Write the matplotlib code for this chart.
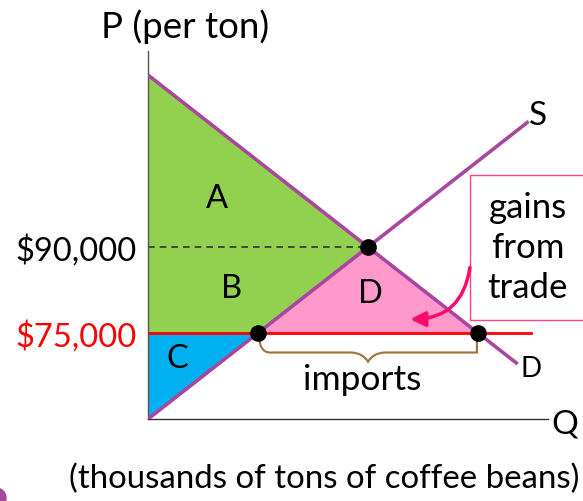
import numpy as np
import matplotlib
matplotlib.use("Agg")
import matplotlib.pyplot as plt
from matplotlib.patches import Polygon, Rectangle, Circle
from matplotlib.path import Path
from matplotlib.patches import PathPatch
from matplotlib.transforms import IdentityTransform

plt.rcParams['font.family'] = ['Lato', 'DejaVu Sans']

# market data (P in $1000 per ton, Q in thousands of tons)
supply_q = [0, 34.6]
supply_p = [60, 60 + 1.5 * 34.6]
demand_q = [0, 33.6]
demand_p = [120, 120 - 1.5 * 33.6]
world_price = 75
eq_q, eq_p = 20, 90
qs_world, qd_world = 10, 30
price_ticks = [75, 90]
price_labels = ['$75,000', '$90,000']

PURPLE = '#A8479F'
GREEN = '#92D050'
BLUE = '#00B0F0'
PINK = '#FF99CC'

fig = plt.figure(figsize=(5.83, 5.02), dpi=100)
ax = fig.add_axes([148 / 583, 82 / 502, 400 / 583, 368 / 502])
ax.set_xlim(0, 400 / 11)
ax.set_ylim(60, 60 + 368 / 5.733)

for s in ['top', 'right']:
    ax.spines[s].set_visible(False)
ax.spines['left'].set_color('#555555')
ax.spines['left'].set_linewidth(1.0)
ax.spines['bottom'].set_color('#333333')
ax.spines['bottom'].set_linewidth(1.0)
ax.set_xticks([])
ax.set_yticks(price_ticks)
ax.set_yticklabels(price_labels, fontsize=23.5)
ax.tick_params(axis='y', length=0, pad=8)
ax.get_yticklabels()[0].set_color('red')

# surplus areas
ax.add_patch(Polygon([(0, demand_p[0]), (eq_q, eq_p), (qs_world, world_price), (0, world_price)],
                     closed=True, facecolor=GREEN, edgecolor='none', zorder=1))
ax.add_patch(Polygon([(0, world_price), (qs_world, world_price), (0, supply_p[0])],
                     closed=True, facecolor=BLUE, edgecolor='none', zorder=1))
ax.add_patch(Polygon([(qs_world, world_price), (eq_q, eq_p), (qd_world, world_price)],
                     closed=True, facecolor=PINK, edgecolor='none', zorder=1))

ax.plot([0, eq_q], [eq_p, eq_p], color='#333333', lw=1.2, ls=(0, (4, 3)), zorder=2)
ax.plot([0, 34.8], [world_price, world_price], color='red', lw=2, zorder=3)
ax.plot(supply_q, supply_p, color=PURPLE, lw=2.6, zorder=4, solid_capstyle='butt')
ax.plot(demand_q, demand_p, color=PURPLE, lw=2.6, zorder=4, solid_capstyle='butt')
ax.plot([qs_world, eq_q, qd_world], [world_price, eq_p, world_price], 'o',
        color='black', ms=11, zorder=5)

# brace under imports
x0, x1 = qs_world + 0.1, qd_world - 0.1
xm = (x0 + x1) / 2
y0 = world_price - 0.3
yb = world_price - 3.4
yt = world_price - 5.0
verts = [(x0, y0), (x0, yb), (x0 + 1.0, yb), (x0 + 1.6, yb),
         (xm - 1.6, yb), (xm - 0.5, yb), (xm, yt),
         (xm + 0.5, yb), (xm + 1.6, yb),
         (x1 - 1.6, yb), (x1 - 1.0, yb), (x1, yb), (x1, y0)]
codes = [Path.MOVETO, Path.CURVE3, Path.CURVE3, Path.LINETO,
         Path.LINETO, Path.CURVE3, Path.CURVE3,
         Path.CURVE3, Path.CURVE3,
         Path.LINETO, Path.CURVE3, Path.CURVE3, Path.LINETO]
ax.add_patch(PathPatch(Path(verts, codes), facecolor='none', edgecolor='#A0703A', lw=1.5, zorder=3))

# box and arrow
ax.add_patch(Rectangle((29.3, 77.3), 12, 25.3, facecolor='white', edgecolor='#FF4088',
                       lw=1.0, clip_on=False, zorder=6))
ax.text(34.5, 90.0, 'gains\nfrom\ntrade', fontsize=25, ha='center', va='center',
        linespacing=1.3, zorder=7)
ax.annotate('', xy=(23.6, 77.4), xytext=(29.3, 86.9),
            arrowprops=dict(arrowstyle='-|>,head_length=0.9,head_width=0.45', color='#FF0A6C',
                            lw=2.5, connectionstyle='arc3,rad=-0.45'), zorder=7)

# labels
kw = dict(fontsize=23.5, ha='center', va='center', clip_on=False)
ax.text(6.27, 98.5, 'A', **kw)
ax.text(7.6, 82.8, 'B', **kw)
ax.text(2.7, 70.6, 'C', **kw)
ax.text(20.2, 82.0, 'D', **kw)
ax.text(34.6, 113.0, 'S', fontsize=24, ha='left', va='center')
ax.text(33.9, 68.9, 'D', fontsize=20, ha='left', va='center')
ax.text(36.7, 59.3, 'Q', fontsize=24, ha='left', va='center', clip_on=False)
ax.text(19.5, 67.0, 'imports', fontsize=25.5, ha='center', va='center')
ax.text(3.4, 128.6, 'P (per ton)', fontsize=26.5, ha='center', va='center', clip_on=False)
ax.text(16.0, 49.8, '(thousands of tons of coffee beans)', fontsize=23.8,
        ha='center', va='center', clip_on=False)

fig.add_artist(Circle((-4, 3), 10, transform=IdentityTransform(), color=PURPLE))

fig.savefig('out.png', dpi=100)
